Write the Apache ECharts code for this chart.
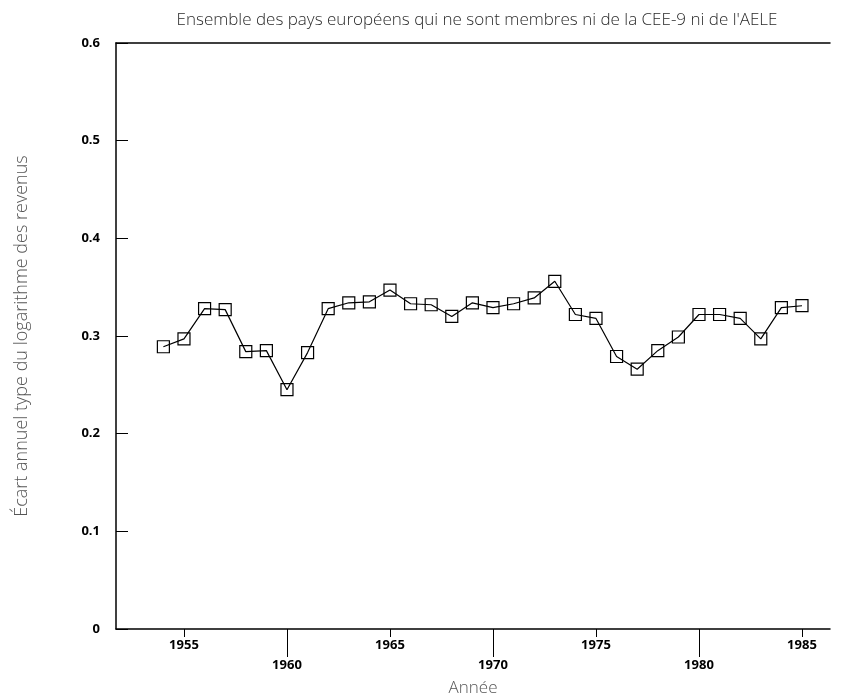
<!DOCTYPE html>
<html>
<head>
<meta charset="utf-8">
<script src="https://cdn.jsdelivr.net/npm/echarts@6/dist/echarts.min.js"></script>
<style>
  html, body { margin: 0; padding: 0; background: #fff; }
  #main { width: 845px; height: 694px; }
</style>
</head>
<body>
<div id="main"></div>
<script>
const years = [1954, 1955, 1956, 1957, 1958, 1959, 1960, 1961, 1962, 1963, 1964,
  1965, 1966, 1967, 1968, 1969, 1970, 1971, 1972, 1973, 1974, 1975,
  1976, 1977, 1978, 1979, 1980, 1981, 1982, 1983, 1984, 1985];
const ecart = [0.289, 0.297, 0.328, 0.327, 0.284, 0.285, 0.245, 0.283, 0.328, 0.334, 0.335,
  0.347, 0.333, 0.332, 0.320, 0.334, 0.329, 0.333, 0.339, 0.356, 0.322, 0.318,
  0.279, 0.266, 0.285, 0.299, 0.322, 0.322, 0.318, 0.297, 0.329, 0.331];
const ticksUpper = [1955, 1965, 1975, 1985];
const ticksLower = [1960, 1970, 1980];
const yTicks = [0, 0.1, 0.2, 0.3, 0.4, 0.5, 0.6];

const titleText = "Ensemble des pays européens qui ne sont membres ni de la CEE-9 ni de l'AELE";
const xName = "Année";
const yName = "Écart annuel type du logarithme des revenus";

const font = "'Open Sans', 'Noto Sans', sans-serif";
const xMin = 1951.7, xMax = 1986.36;

let myChart = echarts.init(document.getElementById("main"));

let tickLabel = {
  fontFamily: font,
  fontSize: 13,
  fontWeight: "bold",
  color: "#000"
};

let option = {
  animation: false,
  title: {
    text: titleText,
    left: 472,
    top: 7,
    textAlign: "center",
    textStyle: { fontFamily: font, fontSize: 17, fontWeight: 300, color: "#2a2a2a" }
  },
  grid: { left: 116, right: 15, top: 43, bottom: 65, outerBoundsMode: "none" },
  xAxis: [
    {
      type: "value",
      min: xMin,
      max: xMax,
      position: "bottom",
      name: xName,
      nameLocation: "middle",
      nameGap: 51,
      nameTextStyle: { fontFamily: font, fontSize: 17, fontWeight: 300, color: "#555" },
      axisLine: { show: true, lineStyle: { color: "#000", width: 1.5 } },
      axisTick: { show: true, length: 8, customValues: ticksUpper, lineStyle: { color: "#000" } },
      axisLabel: Object.assign({ margin: 10, customValues: ticksUpper, formatter: v => String(v) }, tickLabel),
      splitLine: { show: false }
    },
    {
      type: "value",
      min: xMin,
      max: xMax,
      position: "bottom",
      axisLine: { show: false },
      axisTick: { show: true, length: 28, customValues: ticksLower, lineStyle: { color: "#000" } },
      axisLabel: Object.assign({ margin: 30, customValues: ticksLower, formatter: v => String(v) }, tickLabel),
      splitLine: { show: false }
    },
    {
      type: "value",
      min: xMin,
      max: xMax,
      position: "top",
      axisLine: { show: true, lineStyle: { color: "#000", width: 1.5 } },
      axisTick: { show: false },
      axisLabel: { show: false },
      splitLine: { show: false }
    }
  ],
  yAxis: {
    type: "value",
    min: 0,
    max: 0.6,
    interval: 0.1,
    name: yName,
    nameLocation: "middle",
    nameGap: 85,
    nameTextStyle: { fontFamily: font, fontSize: 18, fontWeight: 300, color: "#555" },
    axisLine: { show: true, lineStyle: { color: "#000", width: 1.5 } },
    axisTick: { show: true, inside: true, length: 12, customValues: yTicks, lineStyle: { color: "#000" } },
    axisLabel: Object.assign({ margin: 16, customValues: yTicks, formatter: v => String(+v.toFixed(1)) }, tickLabel),
    splitLine: { show: false }
  },
  series: [
    {
      type: "line",
      xAxisIndex: 0,
      data: years.map((y, i) => [y, ecart[i]]),
      symbol: "rect",
      symbolSize: 12,
      lineStyle: { color: "#000", width: 1.2 },
      itemStyle: { color: "rgba(255,255,255,0)", borderColor: "#000", borderWidth: 1.2 }
    }
  ]
};

myChart.setOption(option);
</script>
</body>
</html>
